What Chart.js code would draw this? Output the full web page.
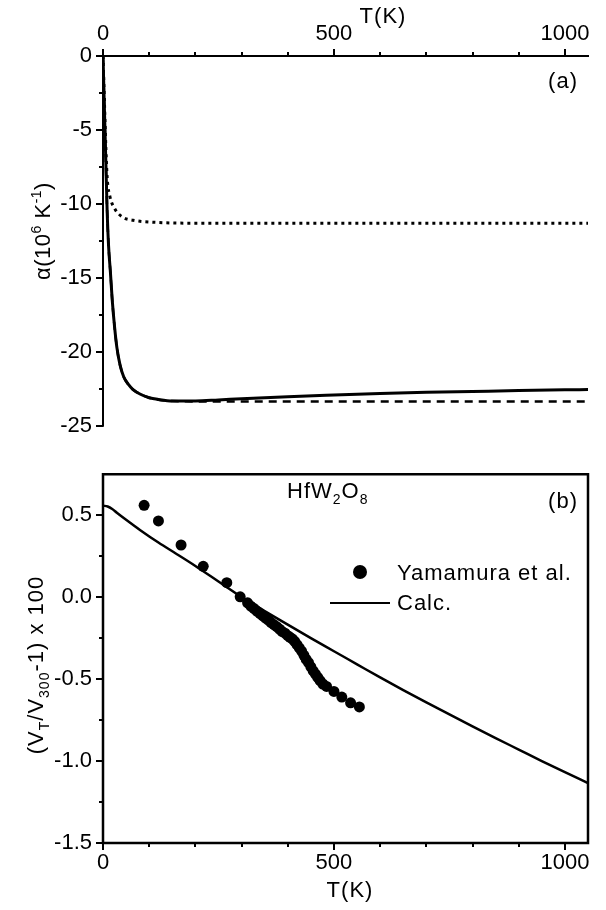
<!DOCTYPE html>
<html>
<head>
<meta charset="utf-8">
<title>HfW2O8 thermal expansion</title>
<script src="https://cdn.jsdelivr.net/npm/chart.js@4.4.1/dist/chart.umd.min.js"></script>
<style>
  html, body { margin: 0; padding: 0; background: #fff; }
  #wrap { position: relative; width: 606px; height: 910px; }
  #wrap canvas { position: absolute; left: 0; }
  #alphaChart { top: 0; }
  #volChart { top: 450px; }
</style>
</head>
<body>
<div id="wrap">
  <canvas id="alphaChart" width="606" height="450"></canvas>
  <canvas id="volChart" width="606" height="460"></canvas>
</div>
<script>
// Panel (a): expansion coefficient alpha vs T
const solidT     = [0, 3, 6, 9, 12, 16, 20, 25, 30, 37, 45, 55, 65, 80, 100, 120, 150, 200, 250, 300, 400, 500, 600, 700, 800, 900, 1000, 1050];
const solidAlpha = [0, -3.5, -7, -10.5, -12.8, -14.6, -16.5, -18.3, -19.7, -20.9, -21.7, -22.2, -22.55, -22.85, -23.1, -23.22, -23.32, -23.32, -23.25, -23.17, -23.03, -22.92, -22.82, -22.74, -22.68, -22.62, -22.57, -22.55];
const dashAlpha  = [0, -3.5, -7, -10.5, -12.8, -14.6, -16.5, -18.3, -19.7, -20.9, -21.7, -22.2, -22.55, -22.85, -23.1, -23.24, -23.33, -23.35, -23.35, -23.35, -23.35, -23.35, -23.35, -23.35, -23.35, -23.35, -23.35, -23.35];
const dotT       = [0, 3, 6, 9, 15, 25, 43, 65, 117, 182, 300, 500, 700, 900, 1050];
const dotAlpha   = [0, -3, -6, -8.2, -9.5, -10.3, -10.9, -11.1, -11.25, -11.3, -11.3, -11.3, -11.3, -11.3, -11.3];

// Panel (b): relative volume (V_T/V_300 - 1) x 100
const calcT = [0, 10, 20, 30, 50, 80, 120, 160, 200, 250, 300, 350, 400, 450, 500, 550, 600, 650, 700, 750, 800, 850, 900, 950, 1000, 1050];
const calcV = [0.558, 0.553, 0.538, 0.515, 0.472, 0.41, 0.333, 0.262, 0.19, 0.095, 0.0, -0.085, -0.168, -0.25, -0.33, -0.41, -0.49, -0.567, -0.642, -0.715, -0.788, -0.86, -0.93, -1.0, -1.068, -1.134];
const expT = [89, 120, 169, 217, 268, 297, 313, 320, 327, 333, 340, 346, 352, 358, 364, 370, 376, 382, 388, 394, 400, 405, 410, 415, 420, 425, 430, 435, 440, 445, 450, 455, 460, 465, 470, 476, 484, 500, 517, 536, 555];
const expV = [0.56, 0.465, 0.318, 0.188, 0.088, 0.002, -0.035, -0.055, -0.07, -0.085, -0.10, -0.115, -0.128, -0.14, -0.155, -0.168, -0.18, -0.195, -0.21, -0.22, -0.235, -0.245, -0.255, -0.27, -0.29, -0.31, -0.33, -0.355, -0.38, -0.40, -0.425, -0.45, -0.47, -0.49, -0.51, -0.53, -0.545, -0.575, -0.61, -0.645, -0.67];

const FONT = '"Liberation Sans", Arial, Helvetica, sans-serif';
Chart.defaults.font.family = FONT;
Chart.defaults.color = '#000';

const pairs = (xs, ys) => xs.map((x, i) => ({ x, y: ys[i] }));
const isMultiple = (v, step) => Math.abs(v / step - Math.round(v / step)) < 1e-6;

// Outward tick marks, long on labelled values and short in between
const tickMarks = {
  id: 'tickMarks',
  afterDraw(chart, args, opts) {
    const ctx = chart.ctx;
    ctx.save();
    ctx.strokeStyle = '#000';
    ctx.lineWidth = opts.width;
    ctx.beginPath();
    opts.axes.forEach(a => {
      const scale = chart.scales[a.id];
      scale.ticks.forEach(t => {
        const v = t.value;
        if (!isMultiple(v, a.minor)) return;
        if (a.skipMax && v === scale.max) return;
        const len = isMultiple(v, a.major) ? 7 : 4;
        const p = Math.round(scale.getPixelForValue(v));
        if (scale.position === 'top') { ctx.moveTo(p, scale.bottom); ctx.lineTo(p, scale.bottom - len); }
        else if (scale.position === 'bottom') { ctx.moveTo(p, scale.top); ctx.lineTo(p, scale.top + len); }
        else { ctx.moveTo(scale.right, p); ctx.lineTo(scale.right - len, p); }
      });
    });
    ctx.stroke();
    ctx.restore();
  }
};

// Axis lines around the plot area
const frame = {
  id: 'frame',
  afterDraw(chart, args, opts) {
    const { left, right, top, bottom } = chart.chartArea;
    const ctx = chart.ctx;
    ctx.save();
    ctx.strokeStyle = '#000';
    ctx.lineWidth = opts.width;
    ctx.lineCap = 'square';
    ctx.beginPath();
    if (opts.sides.includes('left')) { ctx.moveTo(left, top); ctx.lineTo(left, bottom); }
    if (opts.sides.includes('top')) { ctx.moveTo(left, top); ctx.lineTo(right, top); }
    if (opts.sides.includes('right')) { ctx.moveTo(right, top); ctx.lineTo(right, bottom); }
    if (opts.sides.includes('bottom')) { ctx.moveTo(left, bottom); ctx.lineTo(right, bottom); }
    ctx.stroke();
    ctx.restore();
  }
};

// Text with sub/superscripts; y is the baseline
function drawRich(ctx, parts, x, y, { size = 22, align = 'left', rotate = 0, spacing = 1 } = {}) {
  const small = Math.round(size * 0.65);
  const fontFor = p => (p.sub || p.sup ? small : size) + 'px ' + FONT;
  ctx.save();
  ctx.translate(x, y);
  if (rotate) ctx.rotate(rotate);
  ctx.letterSpacing = spacing + 'px';
  ctx.textBaseline = 'alphabetic';
  ctx.textAlign = 'left';
  ctx.fillStyle = '#000';
  let total = 0;
  parts.forEach(p => { ctx.font = fontFor(p); total += ctx.measureText(p.t).width; });
  let cx = align === 'center' ? -total / 2 : align === 'right' ? -total : 0;
  parts.forEach(p => {
    ctx.font = fontFor(p);
    const dy = p.sup ? -size * 0.42 : p.sub ? size * 0.28 : 0;
    ctx.fillText(p.t, cx, dy);
    cx += ctx.measureText(p.t).width;
  });
  ctx.restore();
}

const tickFont = { family: FONT, size: 22 };

function xAxis(position, height, padding) {
  return {
    type: 'linear', position, min: 0, max: 1050,
    afterFit: s => { s.height = height; },
    grid: { display: false, drawTicks: false },
    border: { display: false },
    ticks: {
      stepSize: 100, includeBounds: false, autoSkip: false, maxRotation: 0, padding, color: '#000', font: tickFont,
      callback: v => isMultiple(v, 500) ? String(v) : ''
    }
  };
}

// (a) alpha(T)
new Chart(document.getElementById('alphaChart'), {
  type: 'scatter',
  data: {
    datasets: [
      { data: pairs(dotT, dotAlpha), showLine: true, borderColor: '#000', borderWidth: 3, borderDash: [3, 4], pointRadius: 0, cubicInterpolationMode: 'monotone' },
      { data: pairs(solidT, dashAlpha), showLine: true, borderColor: '#000', borderWidth: 2.5, borderDash: [8, 6], pointRadius: 0, cubicInterpolationMode: 'monotone' },
      { data: pairs(solidT, solidAlpha), showLine: true, borderColor: '#000', borderWidth: 3, pointRadius: 0, cubicInterpolationMode: 'monotone' }
    ]
  },
  options: {
    responsive: false,
    animation: false,
    layout: { padding: { left: 0, right: 18, top: 0, bottom: 19 } },
    plugins: {
      legend: { display: false },
      tooltip: { enabled: false },
      tickMarks: { width: 2, axes: [{ id: 'x', major: 500, minor: 100 }, { id: 'y', major: 5, minor: 2.5 }] },
      frame: { width: 2, sides: ['left', 'top'] }
    },
    scales: {
      x: xAxis('top', 56, 9),
      y: {
        min: -25, max: 0,
        afterFit: s => { s.width = 103; },
        grid: { display: false, drawTicks: false },
        border: { display: false },
        ticks: { stepSize: 2.5, padding: 11, color: '#000', font: tickFont, callback: v => isMultiple(v, 5) ? String(v) : '' }
      }
    }
  },
  plugins: [tickMarks, frame, {
    id: 'labelsA',
    afterDraw(chart) {
      const ctx = chart.ctx;
      drawRich(ctx, [{ t: 'T(K)' }], 383, 23, { align: 'center' });
      drawRich(ctx, [{ t: '(a)' }], 578, 88, { align: 'right' });
      drawRich(ctx, [{ t: 'α(10' }, { t: '6', sup: true }, { t: ' K' }, { t: '-1', sup: true }, { t: ')' }], 50, 231,
        { align: 'center', rotate: -Math.PI / 2, spacing: 0.5 });
    }
  }]
});

// (b) relative volume vs T
new Chart(document.getElementById('volChart'), {
  type: 'scatter',
  data: {
    datasets: [
      { label: 'Yamamura et al.', data: pairs(expT, expV), pointRadius: 5.5, pointBackgroundColor: '#000', pointBorderWidth: 0 },
      { label: 'Calc.', data: pairs(calcT, calcV), showLine: true, borderColor: '#000', borderWidth: 2.5, pointRadius: 0, cubicInterpolationMode: 'monotone' }
    ]
  },
  options: {
    responsive: false,
    animation: false,
    layout: { padding: { left: 0, right: 18, top: 18, bottom: 0 } },
    plugins: {
      legend: { display: false },
      tooltip: { enabled: false },
      tickMarks: { width: 2, axes: [{ id: 'x', major: 500, minor: 100 }, { id: 'y', major: 0.5, minor: 0.25, skipMax: true }] },
      frame: { width: 2.5, sides: ['left', 'top', 'right', 'bottom'] }
    },
    scales: {
      x: xAxis('bottom', 67, 7),
      y: {
        min: -1.5, max: 0.75,
        afterFit: s => { s.width = 103; },
        grid: { display: false, drawTicks: false },
        border: { display: false },
        ticks: { stepSize: 0.25, padding: 11, color: '#000', font: tickFont, callback: v => isMultiple(v, 0.5) ? v.toFixed(1) : '' }
      }
    }
  },
  plugins: [tickMarks, frame, {
    id: 'labelsB',
    afterDraw(chart) {
      const ctx = chart.ctx;
      drawRich(ctx, [{ t: 'HfW' }, { t: '2', sub: true }, { t: 'O' }, { t: '8', sub: true }], 287, 48);
      drawRich(ctx, [{ t: '(b)' }], 578, 58, { align: 'right' });

      // legend
      ctx.save();
      ctx.fillStyle = '#000';
      ctx.beginPath();
      ctx.arc(360, 122, 7, 0, Math.PI * 2);
      ctx.fill();
      ctx.strokeStyle = '#000';
      ctx.lineWidth = 2;
      ctx.beginPath();
      ctx.moveTo(330, 153);
      ctx.lineTo(390, 153);
      ctx.stroke();
      ctx.restore();
      drawRich(ctx, [{ t: 'Yamamura et al.' }], 397, 130);
      drawRich(ctx, [{ t: 'Calc.' }], 397, 160);

      drawRich(ctx, [{ t: 'T(K)' }], 350, 447, { align: 'center' });
      drawRich(ctx, [{ t: '(V' }, { t: 'T', sub: true }, { t: '/V' }, { t: '300', sub: true }, { t: '-1) x 100' }], 43, 215,
        { align: 'center', rotate: -Math.PI / 2 });
    }
  }]
});
</script>
</body>
</html>
